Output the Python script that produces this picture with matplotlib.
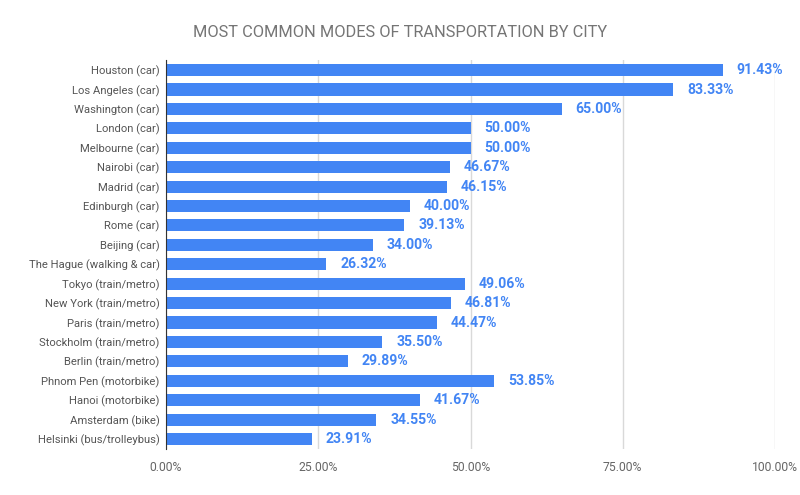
import matplotlib
matplotlib.use("Agg")
import matplotlib.pyplot as plt
from matplotlib.ticker import FixedLocator

cities = ["Houston (car)", "Los Angeles (car)", "Washington (car)", "London (car)",
          "Melbourne (car)", "Nairobi (car)", "Madrid (car)", "Edinburgh (car)",
          "Rome (car)", "Beijing (car)", "The Hague (walking & car)", "Tokyo (train/metro)",
          "New York (train/metro)", "Paris (train/metro)", "Stockholm (train/metro)",
          "Berlin (train/metro)", "Phnom Pen (motorbike)", "Hanoi (motorbike)",
          "Amsterdam (bike)", "Helsinki (bus/trolleybus)"]
values = [91.43, 83.33, 65.00, 50.00, 50.00, 46.67, 46.15, 40.00, 39.13, 34.00,
          26.32, 49.06, 46.81, 44.47, 35.50, 29.89, 53.85, 41.67, 34.55, 23.91]
xticks = [0, 25, 50, 75, 100]
xtick_labels = ["0.00%", "25.00%", "50.00%", "75.00%", "100.00%"]
title = "MOST COMMON MODES OF TRANSPORTATION BY CITY"

plt.rcParams['font.family'] = ['Roboto', 'DejaVu Sans']

fig = plt.figure(figsize=(8, 4.95), dpi=100)
ax = fig.add_axes([0.2075, 0.0935, 0.76125, 0.7845])

blue = "#4285F4"
y = list(range(len(cities)))
ax.barh(y, values, height=0.62, color=blue, zorder=3)
for yi, v in zip(y, values):
    ax.annotate(f"{v:.2f}%", (v, yi), xytext=(10, 0), textcoords="offset points",
                va="center", ha="left", fontsize=10.1, fontweight="bold", color=blue)

ax.set_ylim(len(cities) - 0.5, -0.5)
ax.set_xlim(0, 100)
ax.set_yticks(y)
ax.set_yticklabels(cities, fontsize=8.1, color="#555555")
ax.xaxis.set_major_locator(FixedLocator(xticks))
ax.set_xticklabels(xtick_labels, fontsize=8.7, color="#666666")
ax.tick_params(axis="both", length=0)
ax.tick_params(axis="x", pad=9)
ax.tick_params(axis="y", pad=4.5)
ax.grid(axis="x", color="#d9d9d9", linewidth=1, zorder=0)
for s in ["top", "right", "bottom"]:
    ax.spines[s].set_visible(False)
ax.spines["left"].set_color("#333333")
ax.spines["left"].set_zorder(4)

fig.text(0.5, 0.934, title, ha="center", va="center", fontsize=11.8, color="#757575")

fig.savefig("out.png", dpi=100, facecolor="white")
